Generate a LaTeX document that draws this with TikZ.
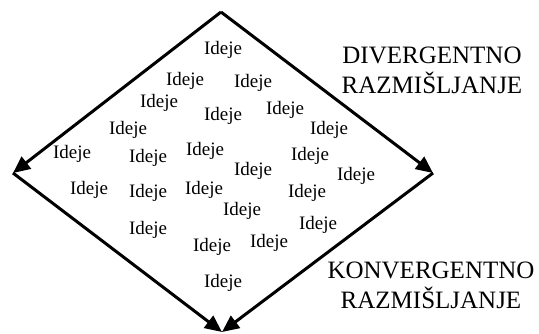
\documentclass[tikz,border=0pt]{standalone}
\usepackage{fontspec}
\setmainfont{Liberation Serif}
\usetikzlibrary{arrows.meta}
\begin{document}
\begin{tikzpicture}[x=1pt,y=-1pt,
  idea/.style={inner sep=0pt,font=\fontsize{19}{21}\selectfont},
  lbl/.style={inner sep=0pt,align=center,font=\fontsize{25}{30}\selectfont},
  arr/.style={line width=3pt,-{Triangle[length=17pt,width=15pt]},shorten >=0pt}]
\useasboundingbox (0,0) rectangle (539,333);
\coordinate (T) at (221,12);
\coordinate (L) at (13,173);
\coordinate (R) at (433,173);
\coordinate (B) at (222,332);
\draw[arr,line join=miter] (T) -- (L);
\draw[arr] (T) -- (R);
\draw[arr] (L) -- (B);
\draw[arr] (R) -- (B);
\node[idea] (i1) at (223,50) {Ideje};
\node[idea] (i2) at (185,81) {Ideje};
\node[idea] (i3) at (253,83) {Ideje};
\node[idea] (i4) at (159,103) {Ideje};
\node[idea] (i5) at (223,116) {Ideje};
\node[idea] (i6) at (285,110) {Ideje};
\node[idea] (i7) at (128,130) {Ideje};
\node[idea] (i8) at (329,130) {Ideje};
\node[idea] (i9) at (72,154) {Ideje};
\node[idea] (i10) at (148,158) {Ideje};
\node[idea] (i11) at (205,151) {Ideje};
\node[idea] (i12) at (310,156) {Ideje};
\node[idea] (i13) at (253,171) {Ideje};
\node[idea] (i14) at (356,176) {Ideje};
\node[idea] (i15) at (89,190) {Ideje};
\node[idea] (i16) at (148,193) {Ideje};
\node[idea] (i17) at (204,190) {Ideje};
\node[idea] (i18) at (307,193) {Ideje};
\node[idea] (i19) at (242,211) {Ideje};
\node[idea] (i20) at (148,230) {Ideje};
\node[idea] (i21) at (318,225) {Ideje};
\node[idea] (i22) at (212,247) {Ideje};
\node[idea] (i23) at (269,243) {Ideje};
\node[idea] (i24) at (223,283) {Ideje};
\node[lbl] (div) at (432,70) {DIVERGENTNO\\RAZMIŠLJANJE};
\node[lbl] (kon) at (431,285) {KONVERGENTNO\\RAZMIŠLJANJE};
\end{tikzpicture}
\end{document}
